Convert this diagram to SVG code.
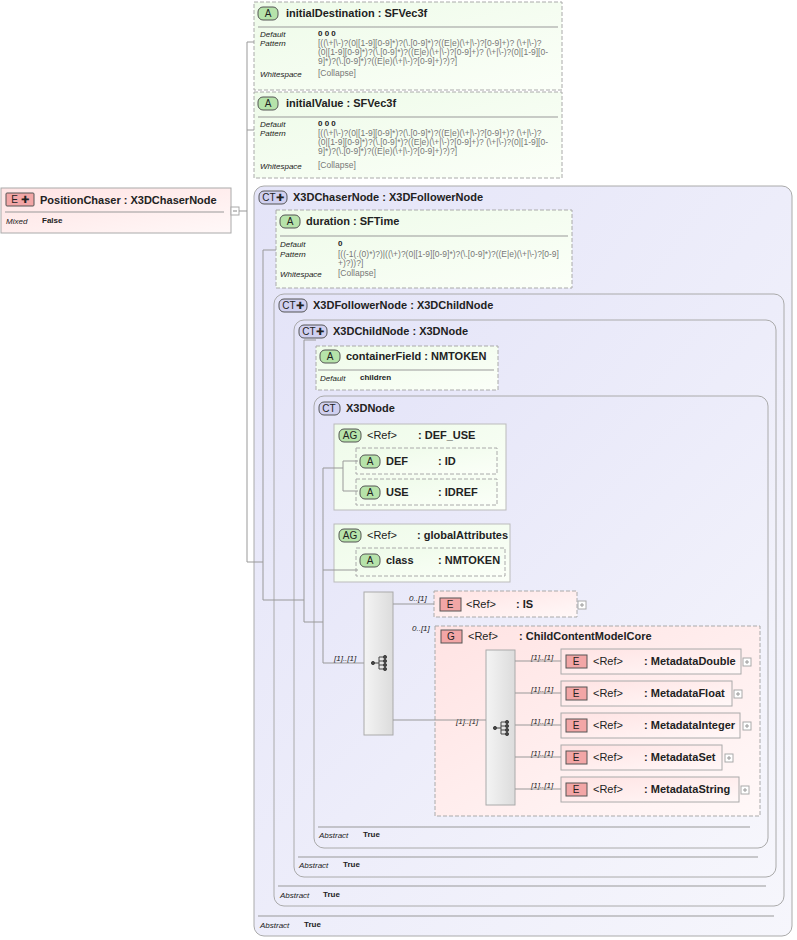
<svg xmlns="http://www.w3.org/2000/svg" width="797" height="940" viewBox="0 0 797 940">
<defs>
<linearGradient id="gA" x1="0" y1="0" x2="1" y2="1"><stop offset="0" stop-color="#eefbe9"/><stop offset="1" stop-color="#fbfff8"/></linearGradient>
<linearGradient id="gE" x1="0" y1="0" x2="1" y2="1"><stop offset="0" stop-color="#ffe3e3"/><stop offset="1" stop-color="#fff8f8"/></linearGradient>
<linearGradient id="gCT" x1="0" y1="0" x2="1" y2="1"><stop offset="0" stop-color="#e4e4f8"/><stop offset="1" stop-color="#f6f6fc"/></linearGradient>
<linearGradient id="gS" x1="0" y1="0" x2="1" y2="0"><stop offset="0" stop-color="#f4f4f4"/><stop offset="1" stop-color="#dcdcdc"/></linearGradient>
</defs>
<style>
text{font-family:"Liberation Sans",Arial,sans-serif;fill:#222}
.t{font-size:11px;font-weight:bold}
.r{font-size:11px}
.l{font-size:8px;font-style:italic}
.v{font-size:8px;font-weight:bold}
.p{font-size:8.5px;fill:#777}
.m{font-size:8px;font-style:italic}
.b{font-size:10px;text-anchor:middle}
.attr{fill:url(#gA);stroke:#aaa;stroke-dasharray:4,2}
.ag{fill:url(#gA);stroke:#bbb}
.el{fill:url(#gE);stroke:#aaa}
.eld{fill:url(#gE);stroke:#aaa;stroke-dasharray:4,2}
.ct{fill:url(#gCT);stroke:#aaa}
.sep{stroke:#999}
.bA{fill:#b6e3aa;stroke:#555}
.bE{fill:#f2a6a6;stroke:#555}
.bC{fill:#d0d0f0;stroke:#555}
.con line,.con path{stroke:#999;fill:none}
.pl{fill:#fff;stroke:#aaa}
</style>
<g id="PositionChaser">
<rect x="1" y="188" width="230" height="45" class="el"/>
<rect x="6" y="193" width="28" height="13" class="bE" rx="1"/><text x="20" y="203" class="b">E ✚</text>
<text x="40" y="204" class="t">PositionChaser : X3DChaserNode</text>
<line x1="5" y1="212" x2="224" y2="212" class="sep"/>
<text x="6" y="224" class="l">Mixed</text><text x="42" y="223" class="v">False</text>
<rect x="231" y="207" width="8" height="8" class="pl"/><line x1="233" y1="211" x2="237" y2="211" stroke="#888"/>
</g>
<g id="initialDestination">
<rect x="254" y="2" width="308" height="88" class="attr"/>
<rect x="258" y="7" width="20" height="13" class="bA" rx="5"/><text x="268" y="17" class="b">A</text>
<text x="286" y="17" class="t">initialDestination : SFVec3f</text>
<line x1="258" y1="27" x2="558" y2="27" class="sep"/>
<text x="260" y="37" class="l">Default</text><text x="318" y="36" class="v">0 0 0</text>
<text x="260" y="46" class="l">Pattern</text>
<text x="318" y="46" class="p">[((\+|\-)?(0|[1-9][0-9]*)?(\.[0-9]*)?((E|e)(\+|\-)?[0-9]+)? (\+|\-)?</text>
<text x="318" y="55" class="p">(0|[1-9][0-9]*)?(\.[0-9]*)?((E|e)(\+|\-)?[0-9]+)? (\+|\-)?(0|[1-9][0-</text>
<text x="318" y="64" class="p">9]*)?(\.[0-9]*)?((E|e)(\+|\-)?[0-9]+)?)?]</text>
<text x="260" y="77" class="l">Whitespace</text><text x="318" y="76" class="p">[Collapse]</text>
</g>
<g id="initialValue">
<rect x="254" y="92" width="308" height="86" class="attr"/>
<rect x="258" y="97" width="20" height="13" class="bA" rx="5"/><text x="268" y="107" class="b">A</text>
<text x="286" y="107" class="t">initialValue : SFVec3f</text>
<line x1="258" y1="117" x2="558" y2="117" class="sep"/>
<text x="260" y="127" class="l">Default</text><text x="318" y="126" class="v">0 0 0</text>
<text x="260" y="136" class="l">Pattern</text>
<text x="318" y="136" class="p">[((\+|\-)?(0|[1-9][0-9]*)?(\.[0-9]*)?((E|e)(\+|\-)?[0-9]+)? (\+|\-)?</text>
<text x="318" y="145" class="p">(0|[1-9][0-9]*)?(\.[0-9]*)?((E|e)(\+|\-)?[0-9]+)? (\+|\-)?(0|[1-9][0-</text>
<text x="318" y="154" class="p">9]*)?(\.[0-9]*)?((E|e)(\+|\-)?[0-9]+)?)?]</text>
<text x="260" y="169" class="l">Whitespace</text><text x="318" y="168" class="p">[Collapse]</text>
</g>
<g id="X3DChaserNode">
<rect x="254" y="186" width="538" height="750" rx="10" class="ct"/>
<rect x="259" y="191" width="28" height="13" class="bC" rx="5"/><text x="273" y="201" class="b">CT✚</text>
<text x="293" y="201" class="t">X3DChaserNode : X3DFollowerNode</text>
<line x1="258" y1="916" x2="774" y2="916" class="sep"/>
<text x="260" y="928" class="l">Abstract</text><text x="304" y="927" class="v">True</text>
</g>
<g id="duration">
<rect x="276" y="210" width="296" height="78" class="attr"/>
<rect x="280" y="215" width="20" height="13" class="bA" rx="5"/><text x="290" y="225" class="b">A</text>
<text x="306" y="225" class="t">duration : SFTime</text>
<line x1="280" y1="236" x2="568" y2="236" class="sep"/>
<text x="280" y="247" class="l">Default</text><text x="338" y="246" class="v">0</text>
<text x="280" y="257" class="l">Pattern</text>
<text x="338" y="257" class="p">[((-1(.(0)*)?)|((\+)?(0|[1-9][0-9]*)?(\.[0-9]*)?((E|e)(\+|\-)?[0-9]</text>
<text x="338" y="266" class="p">+)?))?]</text>
<text x="280" y="277" class="l">Whitespace</text><text x="338" y="276" class="p">[Collapse]</text>
</g>
<g id="X3DFollowerNode">
<rect x="274" y="294" width="510" height="612" rx="10" class="ct"/>
<rect x="279" y="299" width="28" height="13" class="bC" rx="5"/><text x="293" y="309" class="b">CT✚</text>
<text x="313" y="309" class="t">X3DFollowerNode : X3DChildNode</text>
<line x1="278" y1="886" x2="766" y2="886" class="sep"/>
<text x="280" y="898" class="l">Abstract</text><text x="323" y="897" class="v">True</text>
</g>
<g id="X3DChildNode">
<rect x="294" y="320" width="482" height="557" rx="10" class="ct"/>
<rect x="299" y="325" width="28" height="13" class="bC" rx="5"/><text x="313" y="335" class="b">CT✚</text>
<text x="333" y="335" class="t">X3DChildNode : X3DNode</text>
<line x1="298" y1="857" x2="758" y2="857" class="sep"/>
<text x="299" y="868" class="l">Abstract</text><text x="343" y="867" class="v">True</text>
</g>
<g id="containerField">
<rect x="316" y="346" width="182" height="44" class="attr"/>
<rect x="320" y="350" width="20" height="13" class="bA" rx="5"/><text x="330" y="360" class="b">A</text>
<text x="346" y="360" class="t">containerField : NMTOKEN</text>
<line x1="318" y1="370" x2="494" y2="370" class="sep"/>
<text x="320" y="381" class="l">Default</text><text x="360" y="380" class="v">children</text>
</g>
<g id="X3DNode">
<rect x="314" y="396" width="454" height="452" rx="10" class="ct"/>
<rect x="319" y="402" width="21" height="13" class="bC" rx="5"/><text x="329" y="412" class="b">CT</text>
<text x="346" y="412" class="t">X3DNode</text>
<line x1="318" y1="827" x2="750" y2="827" class="sep"/>
<text x="319" y="838" class="l">Abstract</text><text x="363" y="837" class="v">True</text>
</g>
<g id="DEF_USE">
<rect x="334" y="424" width="172" height="86" class="ag"/>
<rect x="339" y="429" width="22" height="13" class="bA" rx="5"/><text x="350" y="439" class="b">AG</text>
<text x="367" y="439" class="r">&lt;Ref&gt;</text><text x="418" y="439" class="t">: DEF_USE</text>
</g>
<g id="DEF">
<rect x="356" y="448" width="141" height="26" class="attr"/>
<rect x="360" y="455" width="20" height="13" class="bA" rx="5"/><text x="370" y="465" class="b">A</text>
<text x="386" y="465" class="t">DEF</text><text x="438" y="465" class="t">: ID</text>
</g>
<g id="USE">
<rect x="356" y="479" width="141" height="26" class="attr"/>
<rect x="360" y="486" width="20" height="13" class="bA" rx="5"/><text x="370" y="496" class="b">A</text>
<text x="386" y="496" class="t">USE</text><text x="438" y="496" class="t">: IDREF</text>
</g>
<g id="globalAttributes">
<rect x="334" y="524" width="176" height="58" class="ag"/>
<rect x="339" y="529" width="22" height="13" class="bA" rx="5"/><text x="350" y="539" class="b">AG</text>
<text x="367" y="539" class="r">&lt;Ref&gt;</text><text x="417" y="539" class="t">: globalAttributes</text>
</g>
<g id="class">
<rect x="356" y="548" width="149" height="28" class="attr"/>
<rect x="360" y="554" width="20" height="13" class="bA" rx="5"/><text x="370" y="564" class="b">A</text>
<text x="386" y="564" class="t">class</text><text x="438" y="564" class="t">: NMTOKEN</text>
</g>
<g id="seq1">
<rect x="364" y="592" width="29" height="143" fill="url(#gS)" stroke="#aaa"/>
<g stroke="#444" fill="#444"><circle cx="373" cy="663" r="1.6"/><line x1="373" y1="663" x2="379" y2="663"/><path d="M379 657 V669 M379 657 H384 M379 661 H384 M379 665 H384 M379 669 H384" fill="none"/><circle cx="385" cy="657" r="1.6"/><circle cx="385" cy="661" r="1.6"/><circle cx="385" cy="665" r="1.6"/><circle cx="385" cy="669" r="1.6"/></g>
<text x="334" y="661" class="m">[1]..[1]</text>
<text x="409" y="601" class="m">0..[1]</text>
<text x="412" y="631" class="m">0..[1]</text>
</g>
<g id="IS">
<rect x="434" y="591" width="143" height="26" class="eld"/>
<rect x="440" y="598" width="21" height="13" class="bE"/><text x="450" y="608" class="b">E</text>
<text x="466" y="608" class="r">&lt;Ref&gt;</text><text x="516" y="608" class="t">: IS</text>
<rect x="578" y="601" width="8" height="8" class="pl"/><path d="M580 605 H584 M582 603 V607" stroke="#999"/>
</g>
<g id="ChildContentModelCore">
<rect x="435" y="626" width="325" height="190" class="eld"/>
<rect x="441" y="630" width="21" height="13" class="bE"/><text x="451" y="640" class="b">G</text>
<text x="468" y="640" class="r">&lt;Ref&gt;</text><text x="519" y="640" class="t">: ChildContentModelCore</text>
<rect x="486" y="650" width="29" height="155" fill="url(#gS)" stroke="#aaa"/>
<g stroke="#444" fill="#444"><circle cx="495" cy="728" r="1.6"/><line x1="495" y1="728" x2="501" y2="728"/><path d="M501 722 V734 M501 722 H506 M501 726 H506 M501 730 H506 M501 734 H506" fill="none"/><circle cx="507" cy="722" r="1.6"/><circle cx="507" cy="726" r="1.6"/><circle cx="507" cy="730" r="1.6"/><circle cx="507" cy="734" r="1.6"/></g>
<text x="456" y="724" class="m">[1]..[1]</text>
<text x="531" y="660" class="m">[1]..[1]</text>
<text x="531" y="692" class="m">[1]..[1]</text>
<text x="531" y="724" class="m">[1]..[1]</text>
<text x="531" y="756" class="m">[1]..[1]</text>
<text x="531" y="788" class="m">[1]..[1]</text>
</g>
<g id="MetadataDouble">
<rect x="561" y="649" width="180" height="25" class="el"/>
<rect x="566" y="655" width="21" height="13" class="bE"/><text x="576" y="665" class="b">E</text>
<text x="593" y="665" class="r">&lt;Ref&gt;</text><text x="644" y="665" class="t">: MetadataDouble</text>
<rect x="743" y="658" width="8" height="8" class="pl"/><path d="M745 662 H749 M747 660 V664" stroke="#999"/>
</g>
<g id="MetadataFloat">
<rect x="561" y="681" width="171" height="25" class="el"/>
<rect x="566" y="687" width="21" height="13" class="bE"/><text x="576" y="697" class="b">E</text>
<text x="593" y="697" class="r">&lt;Ref&gt;</text><text x="644" y="697" class="t">: MetadataFloat</text>
<rect x="734" y="690" width="8" height="8" class="pl"/><path d="M736 694 H740 M738 692 V696" stroke="#999"/>
</g>
<g id="MetadataInteger">
<rect x="561" y="713" width="179" height="25" class="el"/>
<rect x="566" y="719" width="21" height="13" class="bE"/><text x="576" y="729" class="b">E</text>
<text x="593" y="729" class="r">&lt;Ref&gt;</text><text x="644" y="729" class="t">: MetadataInteger</text>
<rect x="743" y="722" width="8" height="8" class="pl"/><path d="M745 726 H749 M747 724 V728" stroke="#999"/>
</g>
<g id="MetadataSet">
<rect x="561" y="745" width="161" height="25" class="el"/>
<rect x="566" y="751" width="21" height="13" class="bE"/><text x="576" y="761" class="b">E</text>
<text x="593" y="761" class="r">&lt;Ref&gt;</text><text x="644" y="761" class="t">: MetadataSet</text>
<rect x="725" y="754" width="8" height="8" class="pl"/><path d="M727 758 H731 M729 756 V760" stroke="#999"/>
</g>
<g id="MetadataString">
<rect x="561" y="777" width="178" height="25" class="el"/>
<rect x="566" y="783" width="21" height="13" class="bE"/><text x="576" y="793" class="b">E</text>
<text x="593" y="793" class="r">&lt;Ref&gt;</text><text x="644" y="793" class="t">: MetadataString</text>
<rect x="741" y="786" width="8" height="8" class="pl"/><path d="M743 790 H747 M745 788 V792" stroke="#999"/>
</g>
<g class="con">
<line x1="239" y1="211" x2="247" y2="211"/>
<line x1="247" y1="42" x2="247" y2="562"/>
<line x1="247" y1="42" x2="254" y2="42"/>
<line x1="247" y1="130" x2="254" y2="130"/>
<line x1="247" y1="562" x2="263" y2="562"/>
<line x1="263" y1="250" x2="263" y2="600"/>
<line x1="263" y1="250" x2="276" y2="250"/>
<line x1="263" y1="600" x2="304" y2="600"/>
<line x1="304" y1="340" x2="304" y2="622"/>
<line x1="304" y1="340" x2="316" y2="340"/>
<line x1="304" y1="622" x2="323" y2="622"/>
<line x1="323" y1="468" x2="323" y2="663"/>
<line x1="323" y1="468" x2="334" y2="468"/>
<line x1="323" y1="570" x2="334" y2="570"/>
<line x1="323" y1="663" x2="364" y2="663"/>
<line x1="334" y1="468" x2="343" y2="468"/>
<path d="M343 468 V461 H358 M343 468 V491 H358"/>
<line x1="334" y1="570" x2="358" y2="570"/>
<line x1="393" y1="604" x2="434" y2="604"/>
<line x1="393" y1="720" x2="486" y2="720"/>
<line x1="515" y1="661" x2="561" y2="661"/>
<line x1="515" y1="693" x2="561" y2="693"/>
<line x1="515" y1="725" x2="561" y2="725"/>
<line x1="515" y1="757" x2="561" y2="757"/>
<line x1="515" y1="789" x2="561" y2="789"/>
</g>
</svg>
